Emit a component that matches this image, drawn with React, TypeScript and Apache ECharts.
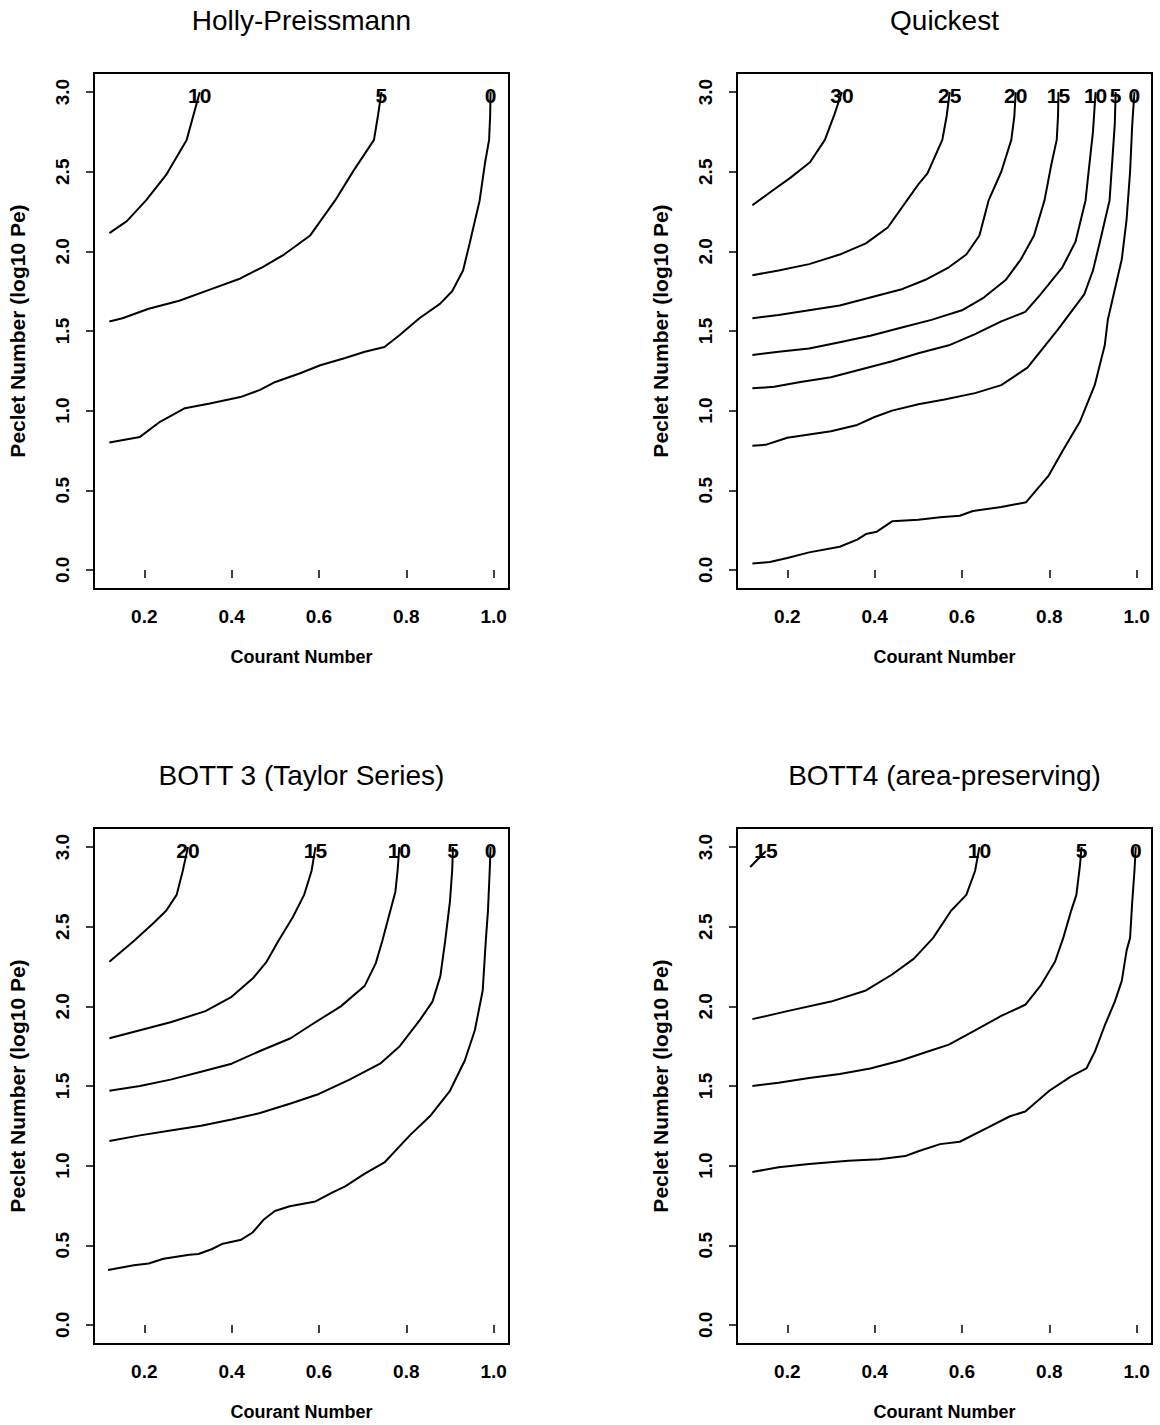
import React, { useEffect, useRef } from "react";
import * as echarts from "echarts";

const FONT = "'Liberation Sans', Arial, Helvetica, sans-serif";

// Axis ticks and ranges (R-style 4% padding around the data range)
const xTicks = [0.2, 0.4, 0.6, 0.8, 1.0];
const yTicks = [0.0, 0.5, 1.0, 1.5, 2.0, 2.5, 3.0];
const xRange = [0.0848, 1.0352];
const yRange = [-0.12, 3.12];

const titles = ["Holly-Preissmann", "Quickest", "BOTT 3 (Taylor Series)", "BOTT4 (area-preserving)"];
const xName = "Courant Number";
const yName = "Peclet Number (log10 Pe)";

// ---- Holly-Preissmann contours (Courant, log10 Pe)
const hp0 = [[0.12,0.80],[0.19,0.835],[0.236,0.93],[0.293,1.015],[0.35,1.045],[0.42,1.085],[0.465,1.13],[0.5,1.18],[0.557,1.235],[0.603,1.285],[0.66,1.33],[0.705,1.37],[0.75,1.40],[0.785,1.475],[0.83,1.58],[0.877,1.67],[0.905,1.75],[0.93,1.88],[0.945,2.05],[0.968,2.32],[0.98,2.55],[0.9896,2.70],[0.992,2.85],[0.993,3.0]];
const hp5 = [[0.12,1.56],[0.15,1.58],[0.21,1.64],[0.28,1.69],[0.35,1.76],[0.42,1.83],[0.47,1.90],[0.52,1.98],[0.58,2.10],[0.637,2.32],[0.68,2.51],[0.726,2.70],[0.735,2.85],[0.743,3.0]];
const hp10 = [[0.12,2.115],[0.16,2.19],[0.204,2.32],[0.25,2.48],[0.297,2.70],[0.312,2.85],[0.327,3.0]];
const hpLevels = [0, 5, 10];

// ---- Quickest contours
const qk0 = [[0.12,0.04],[0.16,0.05],[0.2,0.075],[0.25,0.11],[0.32,0.145],[0.36,0.19],[0.38,0.225],[0.405,0.24],[0.44,0.305],[0.5,0.315],[0.55,0.33],[0.595,0.34],[0.625,0.37],[0.69,0.395],[0.747,0.425],[0.798,0.59],[0.832,0.755],[0.87,0.93],[0.904,1.16],[0.927,1.41],[0.934,1.57],[0.95,1.76],[0.966,1.95],[0.977,2.2],[0.985,2.5],[0.99,2.8],[0.995,3.0]];
const qk5 = [[0.12,0.78],[0.15,0.785],[0.2,0.83],[0.3,0.87],[0.36,0.91],[0.4,0.96],[0.44,1.0],[0.5,1.04],[0.56,1.07],[0.63,1.11],[0.69,1.16],[0.75,1.27],[0.82,1.51],[0.88,1.73],[0.9,1.88],[0.915,2.05],[0.938,2.32],[0.945,2.6],[0.95,2.8],[0.952,3.0]];
const qk10 = [[0.12,1.14],[0.17,1.15],[0.23,1.18],[0.3,1.21],[0.37,1.26],[0.44,1.31],[0.5,1.36],[0.57,1.41],[0.63,1.48],[0.69,1.56],[0.745,1.62],[0.78,1.73],[0.83,1.9],[0.86,2.06],[0.883,2.32],[0.89,2.5],[0.9,2.75],[0.906,3.0]];
const qk15 = [[0.12,1.35],[0.18,1.37],[0.25,1.39],[0.32,1.43],[0.39,1.47],[0.46,1.52],[0.53,1.57],[0.6,1.63],[0.65,1.71],[0.7,1.82],[0.735,1.95],[0.765,2.1],[0.789,2.32],[0.805,2.55],[0.817,2.70],[0.82,2.85],[0.821,3.0]];
const qk20 = [[0.12,1.58],[0.18,1.6],[0.25,1.63],[0.32,1.66],[0.39,1.71],[0.46,1.76],[0.515,1.82],[0.57,1.9],[0.61,1.98],[0.64,2.1],[0.661,2.32],[0.69,2.5],[0.713,2.70],[0.72,2.85],[0.723,3.0]];
const qk25 = [[0.12,1.85],[0.18,1.88],[0.25,1.92],[0.32,1.98],[0.38,2.05],[0.43,2.15],[0.474,2.32],[0.5,2.42],[0.521,2.49],[0.555,2.70],[0.565,2.85],[0.572,3.0]];
const qk30 = [[0.12,2.29],[0.16,2.37],[0.206,2.46],[0.252,2.56],[0.286,2.70],[0.308,2.86],[0.325,3.0]];
const qkLevels = [0, 5, 10, 15, 20, 25, 30];

// ---- BOTT 3 (Taylor Series) contours
const b3_0 = [[0.117,0.345],[0.176,0.375],[0.21,0.385],[0.244,0.415],[0.303,0.44],[0.324,0.445],[0.354,0.475],[0.38,0.51],[0.422,0.535],[0.448,0.58],[0.473,0.66],[0.499,0.715],[0.533,0.745],[0.592,0.775],[0.63,0.83],[0.66,0.87],[0.705,0.95],[0.75,1.02],[0.808,1.19],[0.854,1.31],[0.9,1.47],[0.934,1.66],[0.957,1.85],[0.975,2.1],[0.982,2.41],[0.987,2.6],[0.991,2.85],[0.993,3.0]];
const b3_5 = [[0.12,1.155],[0.19,1.19],[0.26,1.22],[0.33,1.25],[0.4,1.29],[0.465,1.33],[0.535,1.39],[0.6,1.45],[0.67,1.54],[0.74,1.64],[0.785,1.75],[0.83,1.91],[0.86,2.03],[0.878,2.19],[0.889,2.41],[0.9,2.66],[0.905,2.85],[0.907,3.0]];
const b3_10 = [[0.12,1.47],[0.19,1.5],[0.26,1.54],[0.33,1.59],[0.4,1.64],[0.465,1.72],[0.535,1.8],[0.58,1.88],[0.65,2.0],[0.705,2.13],[0.73,2.27],[0.745,2.41],[0.775,2.72],[0.78,2.85],[0.784,3.0]];
const b3_15 = [[0.12,1.80],[0.19,1.85],[0.26,1.9],[0.34,1.97],[0.4,2.06],[0.45,2.18],[0.48,2.28],[0.507,2.41],[0.54,2.56],[0.566,2.70],[0.583,2.85],[0.592,3.0]];
const b3_20 = [[0.12,2.28],[0.176,2.41],[0.22,2.52],[0.25,2.6],[0.274,2.70],[0.288,2.85],[0.3,3.0]];
const b3Levels = [0, 5, 10, 15, 20];

// ---- BOTT4 (area-preserving) contours
const b4_0 = [[0.12,0.96],[0.18,0.99],[0.25,1.01],[0.34,1.03],[0.41,1.04],[0.47,1.06],[0.5,1.09],[0.55,1.135],[0.595,1.15],[0.66,1.24],[0.71,1.31],[0.745,1.34],[0.8,1.47],[0.85,1.56],[0.885,1.61],[0.905,1.72],[0.927,1.88],[0.95,2.03],[0.966,2.16],[0.977,2.35],[0.985,2.43],[0.99,2.66],[0.995,2.85],[0.998,3.0]];
const b4_5 = [[0.12,1.5],[0.18,1.52],[0.25,1.55],[0.32,1.575],[0.39,1.61],[0.46,1.66],[0.515,1.71],[0.57,1.76],[0.63,1.85],[0.69,1.94],[0.745,2.01],[0.78,2.13],[0.813,2.28],[0.832,2.43],[0.85,2.6],[0.862,2.70],[0.87,2.88],[0.874,3.0]];
const b4_10 = [[0.12,1.92],[0.2,1.97],[0.3,2.03],[0.38,2.1],[0.44,2.2],[0.49,2.3],[0.534,2.43],[0.575,2.6],[0.61,2.70],[0.63,2.85],[0.64,3.0]];
const b4_15 = [[0.115,2.875],[0.151,2.975]];
const b4Levels = [0, 5, 10, 15];

const labelY = 2.98;

const panelCurves = [
  [hp0, hp5, hp10],
  [qk0, qk5, qk10, qk15, qk20, qk25, qk30],
  [b3_0, b3_5, b3_10, b3_15, b3_20],
  [b4_0, b4_5, b4_10, b4_15],
];
const panelLevels = [hpLevels, qkLevels, b3Levels, b4Levels];

// Layout (pixels)
const layout = [
  { left: 94, top: 73 },
  { left: 737, top: 73 },
  { left: 94, top: 828 },
  { left: 737, top: 828 },
];
const PW = 415;
const PH = 516;

function buildOption() {
  const grid: any[] = [];
  const xAxis: any[] = [];
  const yAxis: any[] = [];
  const series: any[] = [];
  const title: any[] = [];

  layout.forEach((L, i) => {
    grid.push({
      left: L.left, top: L.top, width: PW, height: PH,
      show: true, borderColor: "#000", borderWidth: 2,
      backgroundColor: "transparent", containLabel: false,
      outerBoundsMode: "none",
    });
    title.push({
      text: titles[i],
      left: L.left + PW / 2,
      top: L.top - 67,
      textAlign: "center",
      padding: 0,
      textStyle: { fontFamily: FONT, fontSize: 28, fontWeight: "normal", color: "#000" },
    });
    xAxis.push({
      type: "value", gridIndex: i, min: xRange[0], max: xRange[1],
      axisLine: { show: false },
      splitLine: { show: false },
      axisTick: { show: true, length: 8, customValues: xTicks, lineStyle: { color: "#000", width: 1.5 } },
      axisLabel: {
        customValues: xTicks, margin: 18,
        formatter: (v: number) => v.toFixed(1),
        fontFamily: FONT, fontSize: 19, fontWeight: "bold", color: "#000",
      },
      name: xName, nameLocation: "middle", nameGap: 59,
      nameTextStyle: { fontFamily: FONT, fontSize: 18, fontWeight: "bold", color: "#000" },
    });
    yAxis.push({
      type: "value", gridIndex: i, min: yRange[0], max: yRange[1],
      axisLine: { show: false },
      splitLine: { show: false },
      axisTick: { show: true, length: 8, customValues: yTicks, lineStyle: { color: "#000", width: 1.5 } },
      axisLabel: {
        customValues: yTicks, margin: 22, rotate: 90,
        formatter: (v: number) => v.toFixed(1),
        fontFamily: FONT, fontSize: 19, fontWeight: "bold", color: "#000",
      },
      name: yName, nameLocation: "middle", nameGap: 66, nameRotate: 90,
      nameTextStyle: { fontFamily: FONT, fontSize: 21, fontWeight: "bold", color: "#000" },
    });

    const curves = panelCurves[i];
    const levels = panelLevels[i];
    curves.forEach((c) => {
      series.push({
        type: "line", xAxisIndex: i, yAxisIndex: i, data: c,
        showSymbol: false, symbol: "none", smooth: false, silent: true,
        lineStyle: { color: "#000", width: 2 },
      });
    });
    series.push({
      type: "scatter", xAxisIndex: i, yAxisIndex: i, silent: true,
      symbol: "circle", symbolSize: 2,
      itemStyle: { color: "rgba(0,0,0,0)" },
      data: curves.map((c, j) => [c[c.length - 1][0], labelY, levels[j]]),
      label: {
        show: true, position: "inside",
        formatter: (p: any) => String(p.value[2]),
        fontFamily: FONT, fontSize: 21, fontWeight: "bold", color: "#000",
        opacity: 1, textBorderWidth: 0,
      },
      labelLayout: { hideOverlap: false },
      z: 5,
    });
  });

  return {
    animation: false,
    backgroundColor: "#fff",
    title, grid, xAxis, yAxis, series,
  };
}

export default function App() {
  const ref = useRef<HTMLDivElement>(null);
  useEffect(() => {
    if (!ref.current) return;
    const chart = echarts.init(ref.current, null, { renderer: "svg" });
    chart.setOption(buildOption() as any);
    return () => chart.dispose();
  }, []);
  return (
    <div
      ref={ref}
      style={{ position: "absolute", left: 0, top: 0, width: 1160, height: 1425, background: "#fff" }}
    />
  );
}
